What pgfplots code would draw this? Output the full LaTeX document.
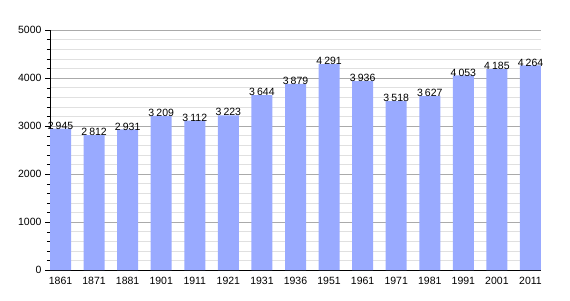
\documentclass[border=0pt]{standalone}
\usepackage{pgfplots}
\pgfplotsset{compat=1.18}
\usepackage{fontspec}
\setmainfont{Liberation Sans}
\definecolor{barblue}{RGB}{153,170,255}
\definecolor{majgrid}{RGB}{170,170,170}
\definecolor{mingrid}{RGB}{224,224,224}
\begin{document}
\begin{tikzpicture}
\useasboundingbox (0pt,0pt) rectangle (570pt,300pt);
\begin{axis}[
  at={(50pt,30pt)}, anchor=south west,
  scale only axis, width=491pt, height=240pt,
  ymin=0, ymax=5000,
  xmin=-0.313, xmax=14.313,
  ybar, bar width=21pt,
  axis lines=left, axis line style={-, black},
  ytick={0,1000,...,5000},
  minor y tick num=4,
  ymajorgrids, yminorgrids,
  major grid style={majgrid, line width=0.6pt},
  minor grid style={mingrid, line width=0.5pt},
  tick align=outside,
  major tick length=5pt, minor tick length=3pt,
  tick style={black},
  xtick=data,
  xticklabels={1861,1871,1881,1901,1911,1921,1931,1936,1951,1961,1971,1981,1991,2001,2011},
  x tick style={draw=none},
  xtick pos=bottom, ytick pos=left,
  /pgf/number format/assume math mode=true,
  /pgf/number format/1000 sep={},
  tick label style={font=\fontsize{10.5}{11}\selectfont},
  xticklabel style={yshift=1pt},
  nodes near coords={\pgfmathprintnumber[1000 sep={\kern0.2em}]{\pgfplotspointmeta}},
  nodes near coords style={font=\fontsize{10.5}{11}\selectfont, inner sep=1pt, anchor=south, yshift=-2pt},
  clip=false,
]
\addplot[fill=barblue, draw=none] coordinates {
(0,2945) (1,2812) (2,2931) (3,3209) (4,3112) (5,3223) (6,3644) (7,3879)
(8,4291) (9,3936) (10,3518) (11,3627) (12,4053) (13,4185) (14,4264)};
\end{axis}
\end{tikzpicture}
\end{document}
